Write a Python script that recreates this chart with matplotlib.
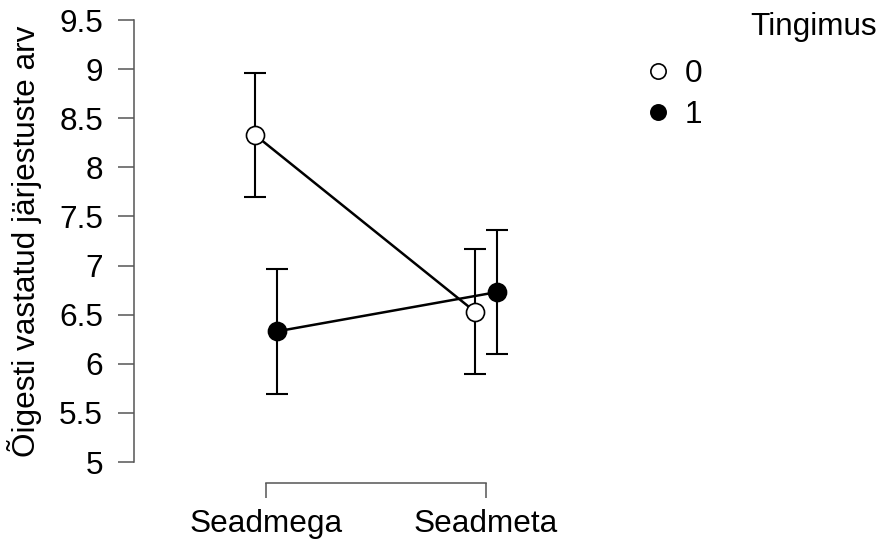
import matplotlib
matplotlib.use("Agg")
import matplotlib.pyplot as plt
from matplotlib.lines import Line2D
import numpy as np

plt.rcParams["font.family"] = ["Liberation Sans", "DejaVu Sans"]

# Data
conditions = ["Seadmega", "Seadmeta"]
group_labels = ["0", "1"]
means_0 = [8.33, 6.53]
means_1 = [6.33, 6.73]
ci_0 = [0.635, 0.635]
ci_1 = [0.635, 0.635]
yticks = [5, 5.5, 6, 6.5, 7, 7.5, 8, 8.5, 9, 9.5]
ytick_labels = ["5", "5.5", "6", "6.5", "7", "7.5", "8", "8.5", "9", "9.5"]
ylabel = "Õigesti vastatud järjestuste arv"
legend_title = "Tingimus"

FS = 22.7
W, H = 879, 539
fig = plt.figure(figsize=(W / 100, H / 100), dpi=100)

# axes box in pixel units
left, right, top, bottom = 134, 600, 20, 462
ax = fig.add_axes([left / W, 1 - bottom / H, (right - left) / W, (bottom - top) / H])
ax.set_xlim(-0.6, 1 + (right - 486) / 220)
ax.set_ylim(5, 9.5)

x = np.arange(len(conditions))
dodge = 0.05
axis_col = "#555555"

series = [
    (means_0, ci_0, "white", -dodge),
    (means_1, ci_1, "black", dodge),
]
for means, ci, face, off in series:
    ax.errorbar(x + off, means, yerr=ci, fmt="none", ecolor="black",
                elinewidth=1.5, capsize=8, capthick=1.5, zorder=2, clip_on=False)
    ax.plot(x + off, means, color="black", lw=1.8, marker="o", ms=13,
            mfc=face, mec="black", mew=1.2, zorder=3, clip_on=False)

for s in ["top", "right"]:
    ax.spines[s].set_visible(False)
ax.spines["left"].set_bounds(5, 9.5)
ax.spines["bottom"].set_bounds(0, 1)
ax.spines["bottom"].set_position(("outward", 15.1))
for s in ["left", "bottom"]:
    ax.spines[s].set_color(axis_col)
    ax.spines[s].set_linewidth(1.1)

ax.set_yticks(yticks)
ax.set_yticklabels(ytick_labels)
ax.set_xticks(x)
ax.set_xticklabels(conditions)
ax.tick_params(axis="y", length=11.5, width=1.1, color=axis_col, pad=10.8,
               labelsize=FS)
ax.tick_params(axis="x", length=10.8, width=1.1, color=axis_col, pad=8.0,
               labelsize=FS)

fig.text(25 / W, 1 - 241 / H, ylabel, rotation=90, ha="center", va="center",
         fontsize=FS)

handles = [
    Line2D([], [], ls="none", marker="o", ms=11, mfc="white", mec="black", mew=1.2),
    Line2D([], [], ls="none", marker="o", ms=11, mfc="black", mec="black", mew=1.2),
]
fig.legend(handles, group_labels, loc="upper left",
           bbox_to_anchor=(642.2 / W, 1 - 59.5 / H), frameon=False, fontsize=FS,
           handlelength=1.0, handletextpad=0.36, labelspacing=0.33,
           borderpad=0, borderaxespad=0)
fig.text(877 / W, 1 - 27 / H, legend_title, ha="right", va="center", fontsize=FS)

fig.savefig("out.png", dpi=100)
